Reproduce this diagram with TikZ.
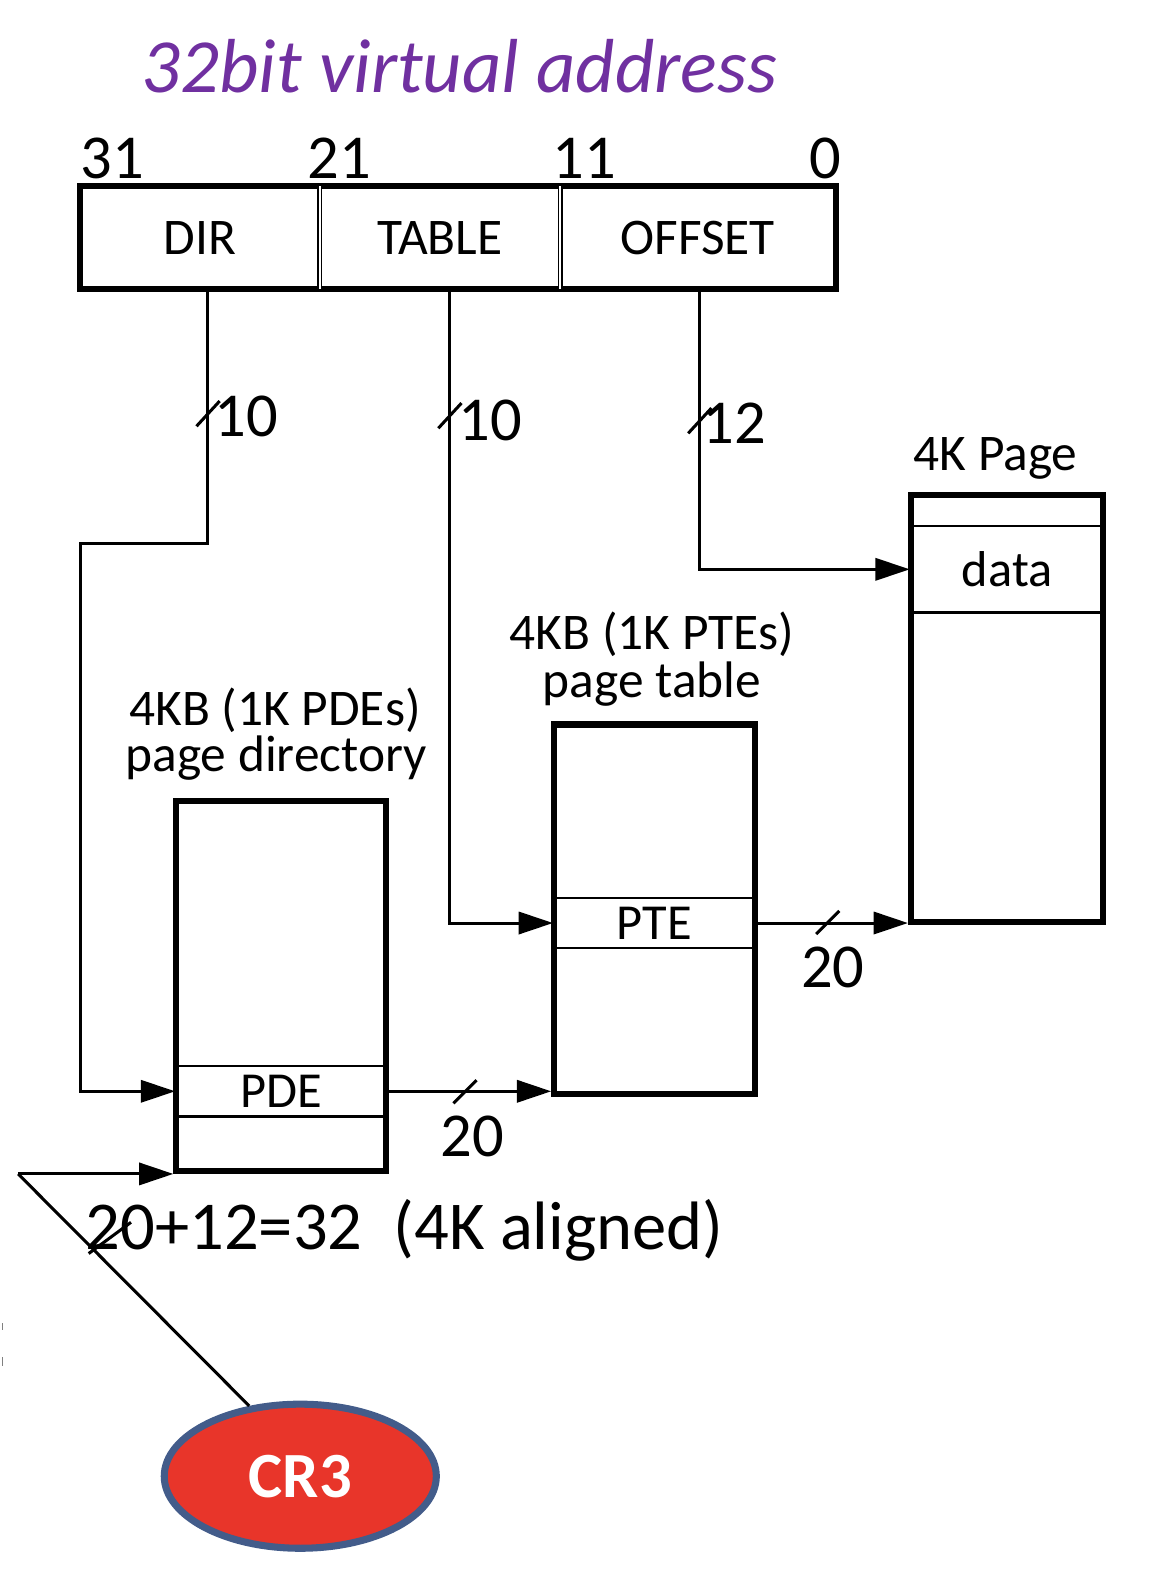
\documentclass[tikz,border=0pt]{standalone}
\usepackage{fontspec}
\setmainfont{Carlito}
\usetikzlibrary{arrows.meta,shapes.geometric}
\definecolor{titlepurple}{HTML}{7030A0}
\definecolor{crred}{HTML}{E8352A}
\definecolor{crblue}{HTML}{435C8A}
\begin{document}
\begin{tikzpicture}[x=1pt,y=-1pt,
  big/.style={inner sep=0, font=\fontsize{62}{74}\selectfont},
  mid/.style={inner sep=0, font=\fontsize{51}{61}\selectfont},
  field/.style={inner sep=0, minimum height=102, font=\fontsize{51}{61}\selectfont},
  membox/.style={draw, line width=6pt, inner sep=0},
  rowbox/.style={draw, line width=2.5pt, inner sep=0, font=\fontsize{50}{60}\selectfont},
  conn/.style={line width=3pt},
  arr/.style={conn, -{Triangle[length=34pt,width=22pt]}},
  slashmark/.style={line width=3pt}]
\useasboundingbox (0,0) rectangle (1145,1568);

% title
\node[inner sep=0, anchor=base, text=titlepurple, font=\itshape\fontsize{76}{90}\selectfont] (title) at (456,92) {32bit virtual address};

% bit numbers
\node[big, anchor=base west] (b31) at (80,177) {31};
\node[big, anchor=base west] (b21) at (305,177) {21};
\node[big, anchor=base west] (b11) at (548,177) {11};
\node[big, anchor=base east] (b0) at (835,177) {0};

% register fields
\node[field, minimum width=237] (dir) at (198.5,236) {DIR};
\node[field, minimum width=239] (tab) at (436.5,236) {TABLE};
\node[field, minimum width=273] (off) at (692.5,236) {OFFSET};
\draw[line width=6pt] (dir.north west) rectangle (off.south east);
\draw[double, double distance=2pt, line width=1.3pt] (dir.north east) -- (dir.south east);
\draw[double, double distance=2pt, line width=1.3pt] (tab.north east) -- (tab.south east);

% memory boxes
\node[membox, minimum width=191, minimum height=424] (page) at (999.5,703) {};
\node[rowbox, minimum width=191, minimum height=86] (data) at (999.5,565) {data};
\node[mid, anchor=base] (pagelbl) at (988,467) {4K Page};

\node[membox, minimum width=199, minimum height=367] (pt) at (649.5,902.5) {};
\node[rowbox, minimum width=199, minimum height=50] (pte) at (649.5,916) {PTE};
\node[mid, anchor=base] (ptl1) at (647,645) {4KB (1K PTEs)};
\node[mid, anchor=base] (ptl2) at (647,692) {page table};

\node[membox, minimum width=208, minimum height=367] (pd) at (279,978.5) {};
\node[rowbox, minimum width=208, minimum height=50] (pde) at (279,1083) {PDE};
\node[mid, anchor=base] (pdl1) at (273,720) {4KB (1K PDEs)};
\node[mid, anchor=base] (pdl2) at (274,766) {page directory};

% CR3
\node[ellipse, draw=crblue, fill=crred, line width=7pt, inner sep=0, minimum width=270, minimum height=143,
      text=white, font=\bfseries\fontsize{64}{76}\selectfont] (cr3) at (298,1465) {CR3};

% connectors
\coordinate (dbend) at (80,539);
\coordinate (crc) at (18,1165);
\draw[arr] ([xshift=7.5pt]dir.south) |- (dbend) |- (pde.west);
\draw[arr] ([xshift=9.5pt]tab.south) |- (pte.west);
\draw[arr] ([xshift=1.5pt]off.south) |- (data.west);
\draw[arr] (pte.east) -- (pte.east -| page.west);
\draw[arr] (pde.east) -- (pde.east -| pt.west);
\draw[conn] (cr3.126) -- (crc);
\draw[arr] (crc) -- (pd.south west);

% bus width marks and labels
\draw[slashmark] (195,423) -- (218,398);
\node[big, anchor=base west] (w1) at (213,433) {10};
\draw[slashmark] (435,425) -- (458,400);
\node[big, anchor=base west] (w2) at (455,437) {10};
\draw[slashmark] (683,430) -- (706,405);
\node[big, anchor=base west] (w3) at (697,440) {12};
\draw[slashmark] (810,927) -- (833,904);
\node[big, anchor=base west] (w4) at (795,980) {20};
\draw[slashmark] (450,1095) -- (473,1072);
\node[big, anchor=base west] (w5) at (437,1148) {20};
\draw[slashmark] (88,1244) -- (130,1213);
\node[inner sep=0, anchor=base west, font=\fontsize{68}{80}\selectfont] (sum) at (85,1240) {20+12=32\ \ (4K aligned)};

% tiny edge marks
\draw[gray, line width=1pt] (2,1313) -- (2,1320);
\draw[gray, line width=1pt] (2,1347) -- (2,1356);
\end{tikzpicture}
\end{document}
